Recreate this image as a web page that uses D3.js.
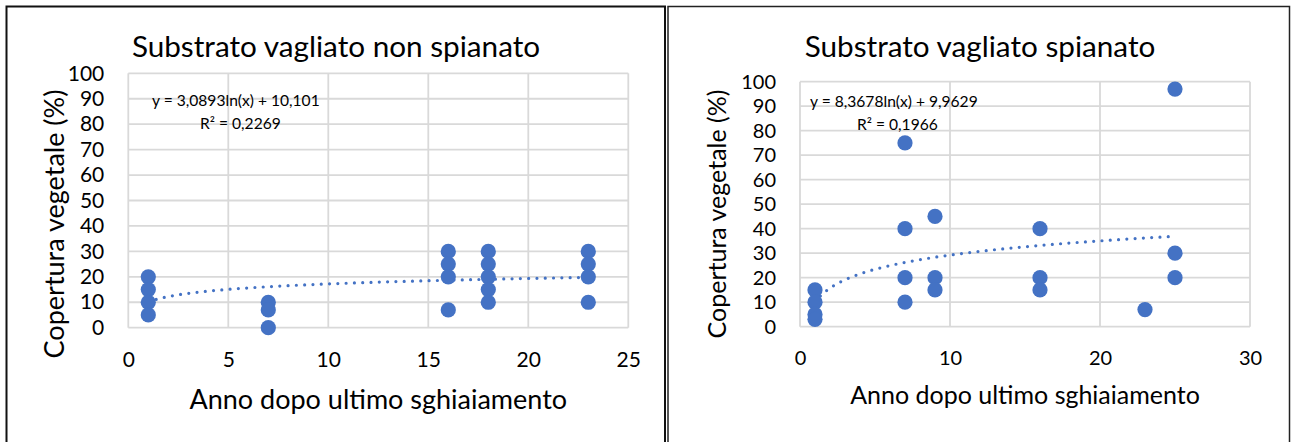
<!DOCTYPE html>
<html>
<head>
<meta charset="utf-8">
<script src="https://cdn.jsdelivr.net/npm/d3@7"></script>
<style>
  html, body { margin: 0; padding: 0; background: #fff; }
  svg { display: block; }
  text { font-family: Lato, "Open Sans", sans-serif; fill: #000; }
</style>
</head>
<body>
<svg id="chart" width="1291" height="442"></svg>
<script>
// Vegetation cover vs. years since last gravel removal
const leftTitle = "Substrato vagliato non spianato";
const leftYears = [1, 1, 1, 1, 7, 7, 7, 16, 16, 16, 16, 18, 18, 18, 18, 18, 23, 23, 23, 23];
const leftCover = [20, 15, 10, 5, 10, 7, 0, 30, 25, 20, 7, 30, 25, 20, 15, 10, 30, 25, 20, 10];
const leftTrend = [3.0893, 10.101];          // y = a·ln(x) + b
const leftEquation = "y = 3,0893ln(x) + 10,101";
const leftR2 = "R² = 0,2269";
const leftXTicks = [0, 5, 10, 15, 20, 25];

const rightTitle = "Substrato vagliato spianato";
const rightYears = [1, 1, 1, 1, 7, 7, 7, 7, 9, 9, 9, 16, 16, 16, 23, 25, 25, 25];
const rightCover = [15, 10, 5, 3, 75, 40, 20, 10, 45, 20, 15, 40, 20, 15, 7, 97, 30, 20];
const rightTrend = [8.3678, 9.9629];
const rightEquation = "y = 8,3678ln(x) + 9,9629";
const rightR2 = "R² = 0,1966";
const rightXTicks = [0, 10, 20, 30];

const yTicks = [0, 10, 20, 30, 40, 50, 60, 70, 80, 90, 100];
const xAxisTitle = "Anno dopo ultimo sghiaiamento";
const yAxisTitle = "Copertura vegetale (%)";

const svg = d3.select("#chart");
svg.append("rect").attr("width", 1291).attr("height", 442).attr("fill", "#fff");

// panel frames
svg.append("rect").attr("x", 6.5).attr("y", 6.5).attr("width", 658.5).attr("height", 460)
  .attr("fill", "none").attr("stroke", "#111").attr("stroke-width", 2);
svg.append("rect").attr("x", 668).attr("y", 6.5).attr("width", 621.5).attr("height", 460)
  .attr("fill", "none").attr("stroke", "#222").attr("stroke-width", 1.5);

function drawPanel(p) {
  const x = d3.scaleLinear().domain([p.xTicks[0], p.xTicks[p.xTicks.length - 1]]).range([p.left, p.right]);
  const y = d3.scaleLinear().domain([0, 100]).range([p.bottom, p.top]);
  const g = svg.append("g");

  // gridlines
  g.append("g").selectAll("line").data(yTicks).join("line")
    .attr("x1", p.left).attr("x2", p.right)
    .attr("y1", d => y(d)).attr("y2", d => y(d))
    .attr("stroke", "#d9d9d9").attr("stroke-width", 1.8);
  g.append("g").selectAll("line").data(p.xTicks).join("line")
    .attr("y1", p.top).attr("y2", p.bottom)
    .attr("x1", d => x(d)).attr("x2", d => x(d))
    .attr("stroke", "#d9d9d9").attr("stroke-width", 1.8);

  // axes (labels only)
  const yAxis = g.append("g").attr("transform", `translate(${p.left},0)`)
    .call(d3.axisLeft(y).tickValues(yTicks).tickSize(0).tickPadding(p.yPad));
  const xAxis = g.append("g").attr("transform", `translate(0,${p.bottom})`)
    .call(d3.axisBottom(x).tickValues(p.xTicks).tickSize(0).tickPadding(p.xPad));
  [yAxis, xAxis].forEach(a => {
    a.select(".domain").remove();
    a.selectAll("text").style("font-size", p.tickSize + "px").attr("fill", "#000")
      .style("font-family", "Lato, sans-serif");
  });

  // log trendline
  const xs = d3.range(1, d3.max(p.years) + 0.001, 0.1);
  const line = d3.line().x(d => x(d)).y(d => y(p.trend[0] * Math.log(d) + p.trend[1]));
  g.append("path").datum(xs).attr("d", line)
    .attr("fill", "none").attr("stroke", "#4472c4").attr("stroke-width", 3.2)
    .attr("stroke-linecap", "round").attr("stroke-dasharray", "0 8.3");

  // points
  g.append("g").selectAll("circle").data(p.years.map((v, i) => [v, p.cover[i]])).join("circle")
    .attr("cx", d => x(d[0])).attr("cy", d => y(d[1])).attr("r", 7.6)
    .attr("fill", "#4472c4");

  // equation label
  g.append("text").attr("x", p.eqX).attr("y", p.eqY).style("font-size", p.eqSize + "px").text(p.equation);
  g.append("text").attr("x", p.r2X).attr("y", p.eqY + 23).style("font-size", p.eqSize + "px").text(p.r2);

  // titles
  g.append("text").attr("x", p.titleX).attr("y", 57).attr("text-anchor", "middle")
    .style("font-size", p.titleSize + "px").text(p.title);
  g.append("text").attr("x", (p.left + p.right) / 2).attr("y", p.xTitleY).attr("text-anchor", "middle")
    .style("font-size", p.axisTitleSize + "px").text(xAxisTitle);
  g.append("text").attr("transform", `translate(${p.yTitleX},${p.yTitleY}) rotate(-90)`)
    .attr("text-anchor", "middle").style("font-size", p.yTitleSize + "px").text(yAxisTitle);
}

drawPanel({
  title: leftTitle, years: leftYears, cover: leftCover, trend: leftTrend,
  equation: leftEquation, r2: leftR2, xTicks: leftXTicks,
  left: 128.3, right: 628.3, top: 73.3, bottom: 327.7,
  yPad: 24, xPad: 24, tickSize: 21,
  eqX: 152, eqY: 106, r2X: 200, eqSize: 15.6,
  titleX: 336, titleSize: 29.7, xTitleY: 409, axisTitleSize: 27,
  yTitleX: 64, yTitleY: 224, yTitleSize: 27
});

drawPanel({
  title: rightTitle, years: rightYears, cover: rightCover, trend: rightTrend,
  equation: rightEquation, r2: rightR2, xTicks: rightXTicks,
  left: 800, right: 1250, top: 81.7, bottom: 326.7,
  yPad: 24, xPad: 24, tickSize: 20,
  eqX: 810, eqY: 107, r2X: 857, eqSize: 15.6,
  titleX: 980, titleSize: 29.7, xTitleY: 404, axisTitleSize: 25,
  yTitleX: 726, yTitleY: 214, yTitleSize: 25
});
</script>
</body>
</html>
